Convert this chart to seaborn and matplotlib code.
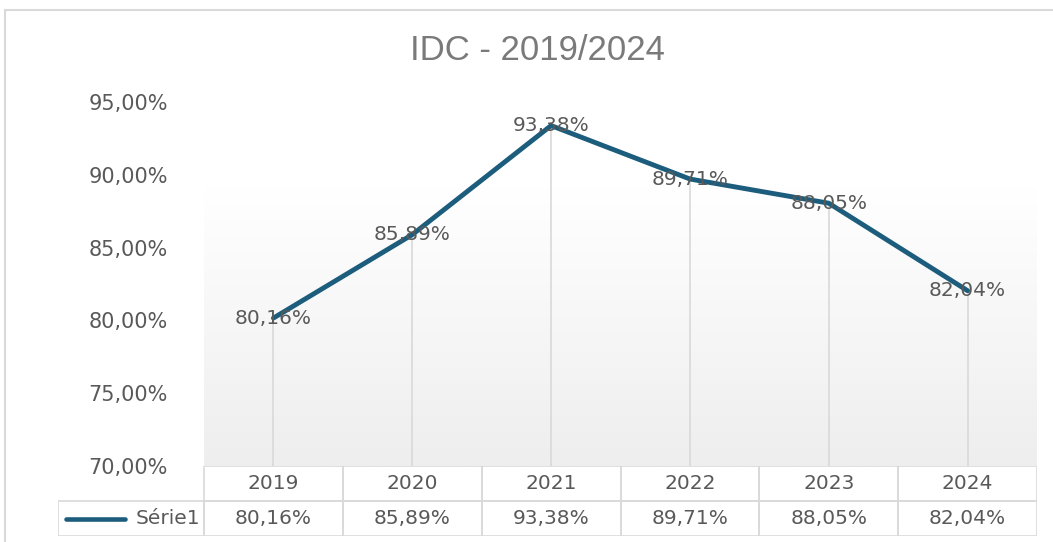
import numpy as np
import pandas as pd
import matplotlib
matplotlib.use("Agg")
import matplotlib.pyplot as plt
from matplotlib.colors import LinearSegmentedColormap
from matplotlib.patches import Rectangle
import seaborn as sns

# data
years = ["2019", "2020", "2021", "2022", "2023", "2024"]
idc = [80.16, 85.89, 93.38, 89.71, 88.05, 82.04]
series_name = "Série1"
title = "IDC - 2019/2024"
yticks = [70, 75, 80, 85, 90, 95]

df = pd.DataFrame({"ano": years, "idc": idc})

def pct(v):
    return f"{v:.2f}%".replace(".", ",")

sns.set_style("white")
plt.rcParams["font.family"] = ["DejaVu Sans"]

W, H = 1053, 542
fig = plt.figure(figsize=(W / 100, H / 100), dpi=100)
fig.patch.set_facecolor("white")

line_col = "#1c5c7c"
txt_col = "#595959"
grid_col = "#d9d9d9"

# plot area in pixels
px_l, px_r, px_t, px_b = 204, 1037, 102, 466
ax = fig.add_axes([px_l / W, (H - px_b) / H, (px_r - px_l) / W, (px_b - px_t) / H])

# soft gradient in the lower part of plot area
cmap = LinearSegmentedColormap.from_list("g", ["#ffffff", "#eeeeee"])
grad = np.linspace(0, 1, 256).reshape(-1, 1)
ax.imshow(grad, cmap=cmap, aspect="auto", extent=(-0.5, 5.5, 70, 89.2),
          origin="upper", zorder=0)

# drop lines
ax.vlines(range(len(years)), 70, idc, color=grid_col, lw=1.2, zorder=1)

sns.lineplot(data=df, x="ano", y="idc", ax=ax, color=line_col, lw=3.5,
             sort=False, zorder=3)

for i, v in enumerate(idc):
    ax.text(i, v, pct(v), ha="center", va="center", fontsize=14.5,
            color=txt_col, zorder=4)

ax.set_xlim(-0.5, 5.5)
ax.set_ylim(70, 95)
ax.set_yticks(yticks)
ax.set_yticklabels([f"{t},00%" for t in yticks], fontsize=15, color=txt_col)
ax.tick_params(axis="y", length=0, pad=26)
ax.set_xticks([])
ax.set_xlabel("")
ax.set_ylabel("")
for s in ax.spines.values():
    s.set_visible(False)
ax.patch.set_alpha(0)

# data table
t_l, t_b = 58, 536
ux = (px_r - px_l) / 6.0
tax = fig.add_axes([t_l / W, (H - t_b) / H, (px_r - t_l) / W, (t_b - px_b) / H])
x0 = -0.5 - (px_l - t_l) / ux
tax.set_xlim(x0, 5.5)
tax.set_ylim(0, 2)
tax.axis("off")

for i, (yr, v) in enumerate(zip(years, idc)):
    tax.add_patch(Rectangle((i - 0.5, 1), 1, 1, fill=False, ec=grid_col, lw=1.2))
    tax.add_patch(Rectangle((i - 0.5, 0), 1, 1, fill=False, ec=grid_col, lw=1.2))
    tax.text(i, 1.5, yr, ha="center", va="center", fontsize=14.5, color=txt_col)
    tax.text(i, 0.5, pct(v), ha="center", va="center", fontsize=14.5, color=txt_col)
tax.add_patch(Rectangle((x0, 0), -0.5 - x0, 1, fill=False, ec=grid_col, lw=1.2))
tax.plot([x0 + 0.06, x0 + 0.48], [0.5, 0.5], color=line_col, lw=3.3,
         solid_capstyle="round")
tax.text(-0.53, 0.5, series_name, ha="right", va="center", fontsize=14.5,
         color=txt_col)

fig.text(537 / W, 1 - 50 / H, title, ha="center", va="center", fontsize=25,
         color="#7a7a7a", family=["Liberation Sans", "DejaVu Sans"])

# chart frame (open on the right, like the cropped original)
fig.add_artist(Rectangle((5 / W, -0.01), 1.05, 1 - 10 / H + 0.01,
                         transform=fig.transFigure, fill=False, ec=grid_col, lw=1.5))

fig.savefig("out.png", dpi=100)
